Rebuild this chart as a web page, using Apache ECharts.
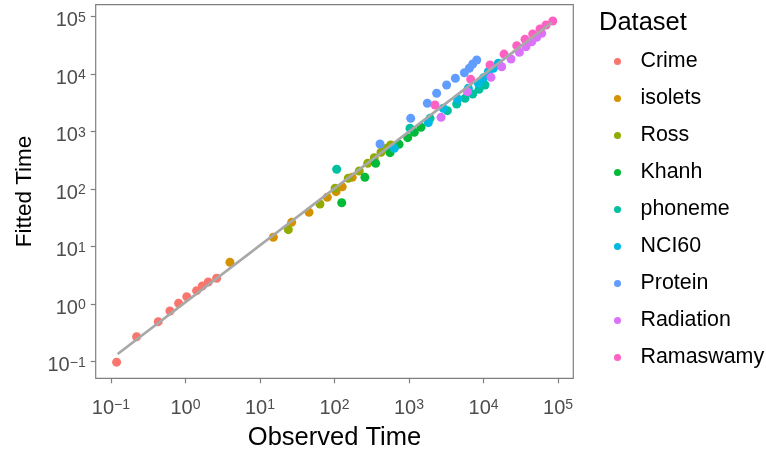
<!DOCTYPE html>
<html><head><meta charset="utf-8">
<script src="https://cdn.jsdelivr.net/npm/echarts@6/dist/echarts.min.js"></script>
<style>html,body{margin:0;padding:0;background:#fff}#c{width:766px;height:451px}</style>
</head><body><div id="c"></div>
<script>
const datasetNames = ['Crime','isolets','Ross','Khanh','phoneme','NCI60','Protein','Radiation','Ramaswamy'];
const datasetColors = ['#F8766D','#D39200','#93AA00','#00BA38','#00C19F','#00B9E3','#619CFF','#DB72FB','#FF61C3'];

const crimeObserved = [0.119,0.221,0.431,0.619,0.809,1.04,1.41,1.68,2.02,2.62];
const crimeFitted   = [0.098,0.272,0.497,0.762,1.04,1.35,1.72,2.07,2.43,2.82];
const isoletsObserved = [3.95,15.1,26.6,45.5,80.0,105,127,173];
const isoletsFitted   = [5.36,14.6,26.5,39.6,72.3,90.6,110,161];
const rossObserved = [24.0,63.8,102,153,215,279,342,421,501,568];
const rossFitted   = [19.8,55.3,104,155,207,282,353,439,514,587];
const khanhObserved = [125,256,357,556,735,960,1178,1449];
const khanhFitted   = [58.2,161,282,432,603,787,977,1194];
const phonemeObserved = [107,1030,1915,3273,4365,5649,7161,8710,10471];
const phonemeFitted   = [222,1146,1710,2323,3034,3802,4529,5458,6486];
const nci60Observed = [635,1816,2884,4498,6252,8511,10000,11588,13552,15812];
const nci60Fitted   = [514,1435,2553,3707,5689,6950,8690,11041,12677,15488];
const proteinObserved = [408,1054,1762,2350,3199,4188,5534,6457,7161,8110];
const proteinFitted   = [611,1710,3119,4656,6486,8492,10617,12677,15031,17660];
const radiationObserved = [2692,6067,12589,17539,23388,30269,37154,44361,51761,60395];
const radiationFitted   = [1778,4966,8831,13490,18365,24044,30061,36728,43853,51404];
const ramaswamyObserved = [2234,6730,12218,18836,27925,36058,45709,57280,69024,84918];
const ramaswamyFitted   = [2911,8147,14454,22387,31333,40458,50003,61094,71779,84140];

const fitObserved = [0.123, 82200];
const fitFitted   = [0.136, 78700];

const tickValues = [0.1,1,10,100,1000,10000,100000];
const xRange = [0.0624, 160300];
const yRange = [0.0514, 161800];

const observedLists = [crimeObserved,isoletsObserved,rossObserved,khanhObserved,phonemeObserved,nci60Observed,proteinObserved,radiationObserved,ramaswamyObserved];
const fittedLists = [crimeFitted,isoletsFitted,rossFitted,khanhFitted,phonemeFitted,nci60Fitted,proteinFitted,radiationFitted,ramaswamyFitted];

const FONT = 'Liberation Sans, Arial, sans-serif';
const labelRich = {
  b: {fontSize: 20, color: '#4D4D4D', lineHeight: 20, fontFamily: FONT},
  s: {fontSize: 14, color: '#4D4D4D', lineHeight: 6, verticalAlign: 'top', fontFamily: FONT}
};
function powFmt(v) {
  const e = Math.round(Math.log10(v));
  const es = e < 0 ? '\u2212' + (-e) : String(e);
  return '{b|10}{s|' + es + '}';
}

const series = datasetNames.map((name, i) => ({
  name: name,
  type: 'scatter',
  symbol: 'circle',
  symbolSize: 9,
  itemStyle: {color: datasetColors[i], opacity: 1},
  data: observedLists[i].map((x, j) => [x, fittedLists[i][j]]),
  z: 2
}));
series.push({
  name: 'fit',
  type: 'line',
  data: fitObserved.map((x, j) => [x, fitFitted[j]]),
  showSymbol: false,
  symbol: 'none',
  lineStyle: {color: '#A8A8A8', width: 2.8},
  z: 5,
  silent: true
});

const chart = echarts.init(document.getElementById('c'), null, {renderer: 'canvas'});
chart.setOption({
  animation: false,
  backgroundColor: '#fff',
  grid: {left: 95.7, right: 192.7, top: 4.7, bottom: 72.7, show: true, borderColor: '#7F7F7F', borderWidth: 1.2, backgroundColor: 'transparent', containLabel: false, outerBoundsMode: 'none'},
  title: {text: 'Dataset', left: 599, top: 10, padding: 0, textStyle: {fontSize: 25.5, fontWeight: 'normal', color: '#000', fontFamily: FONT}},
  legend: {
    data: datasetNames,
    orient: 'vertical',
    left: 609, top: 46,
    icon: 'circle',
    itemWidth: 36, itemHeight: 7,
    itemGap: 16,
    textStyle: {fontSize: 21.4, color: '#000', fontFamily: FONT},
    selectedMode: false
  },
  xAxis: {
    type: 'log', logBase: 10, min: xRange[0], max: xRange[1],
    name: 'Observed Time', nameLocation: 'middle', nameGap: 47,
    nameTextStyle: {fontSize: 25.5, color: '#000', fontFamily: FONT},
    axisLine: {show: false},
    axisTick: {show: true, length: 5, lineStyle: {color: '#7F7F7F', width: 1.2}, customValues: tickValues},
    axisLabel: {customValues: tickValues, formatter: powFmt, rich: labelRich, margin: 20},
    splitLine: {show: false}, minorTick: {show: false}, minorSplitLine: {show: false}
  },
  yAxis: {
    type: 'log', logBase: 10, min: yRange[0], max: yRange[1],
    name: 'Fitted Time', nameLocation: 'middle', nameGap: 59, nameRotate: 90,
    nameTextStyle: {fontSize: 22.5, color: '#000', fontFamily: FONT},
    axisLine: {show: false},
    axisTick: {show: true, length: 5, lineStyle: {color: '#7F7F7F', width: 1.2}, customValues: tickValues},
    axisLabel: {customValues: tickValues, formatter: powFmt, rich: labelRich, margin: 10, padding: [8,0,0,0]},
    splitLine: {show: false}, minorTick: {show: false}, minorSplitLine: {show: false}
  },
  series: series
});
</script></body></html>
